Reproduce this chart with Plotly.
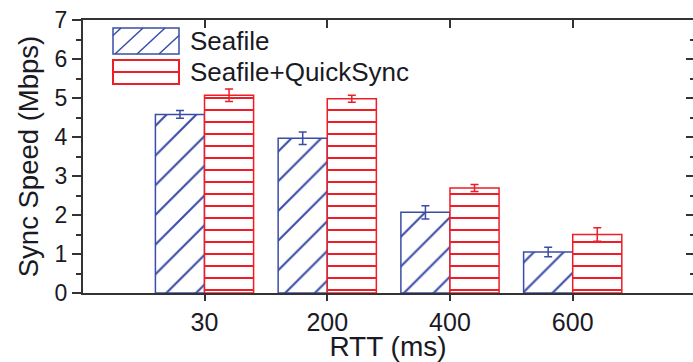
import plotly.graph_objects as go

# ---- data ----
rtt_labels = ["30", "200", "400", "600"]
seafile = [4.58, 3.97, 2.07, 1.05]
seafile_err = [0.10, 0.16, 0.17, 0.12]
quicksync = [5.07, 4.98, 2.69, 1.50]
quicksync_err = [0.16, 0.09, 0.09, 0.17]
y_ticks = [0, 1, 2, 3, 4, 5, 6, 7]

BLUE = "#3A4DA6"
RED = "#EE1D27"
AX = "#333333"
TXT = "#1A1A24"
FONT = "Liberation Sans"

W, H = 693, 362
L, T, B, R = 83, 20, 69, 0
PW, PH = W - L - R, H - T - B

fig = go.Figure()
fig.add_trace(go.Bar(
    x=rtt_labels, y=seafile, name="Seafile",
    marker=dict(color=BLUE, line=dict(color=BLUE, width=1.5),
                pattern=dict(shape="/", size=21, solidity=0.1,
                             fgcolor=BLUE, bgcolor="white", fgopacity=1)),
    error_y=dict(type="data", array=seafile_err, color=BLUE,
                 thickness=1.5, width=4),
    showlegend=False,
))
fig.add_trace(go.Bar(
    x=rtt_labels, y=quicksync, name="Seafile+QuickSync",
    marker=dict(color=RED, line=dict(color=RED, width=1.5),
                pattern=dict(shape="-", size=12, solidity=0.17,
                             fgcolor=RED, bgcolor="white", fgopacity=1)),
    error_y=dict(type="data", array=quicksync_err, color=RED,
                 thickness=1.5, width=4),
    showlegend=False,
))
# invisible trace to carry the mirrored (top/right) axes
fig.add_trace(go.Scatter(x=[0], y=[0], xaxis="x2", yaxis="y2",
                         mode="markers", marker=dict(opacity=0),
                         showlegend=False, hoverinfo="skip"))

xr = [-0.99, 3.98]
fig.update_layout(
    width=W, height=H,
    margin=dict(l=L, r=R, t=T, b=B, pad=0),
    paper_bgcolor="white", plot_bgcolor="white",
    barmode="group", bargap=0.2, bargroupgap=0,
    font=dict(family=FONT, color=TXT),
    xaxis=dict(
        type="category", range=xr,
        showline=True, linecolor=AX, linewidth=2,
        ticks="outside", ticklen=6, tickwidth=2, tickcolor=AX,
        tickfont=dict(size=25, color=TXT),
        showgrid=False, zeroline=False,
        title=dict(text="RTT (ms)", font=dict(size=28, color=TXT), standoff=3),
    ),
    yaxis=dict(
        range=[0, 7], tickvals=y_ticks,
        showline=True, linecolor=AX, linewidth=2,
        ticks="outside", ticklen=9, tickwidth=2, tickcolor=AX,
        minor=dict(ticks="outside", ticklen=5, dtick=0.5, tickwidth=1.5, tickcolor=AX),
        tickfont=dict(size=23, color=TXT),
        showgrid=False, zeroline=False,
        title=dict(text="Sync Speed (Mbps)", font=dict(size=27.5, color=TXT), standoff=8),
    ),
    xaxis2=dict(
        overlaying="x", side="top", anchor="y2", range=xr,
        tickvals=[0, 1, 2, 3], showticklabels=False,
        showline=True, linecolor=AX, linewidth=2,
        ticks="inside", ticklen=8, tickwidth=2, tickcolor=AX,
        showgrid=False, zeroline=False,
    ),
    yaxis2=dict(
        overlaying="y", side="right", anchor="x2", range=[0, 7],
        tickvals=y_ticks, showticklabels=False, showline=False,
        ticks="inside", ticklen=7, tickwidth=2, tickcolor=AX,
        minor=dict(ticks="inside", ticklen=3, dtick=0.5, tickwidth=1.5, tickcolor=AX),
        showgrid=False, zeroline=False,
    ),
)

# ---- custom legend (large swatches like the original) ----
def px(xp):
    return (xp - L) / PW

def py(yp):
    return (H - B - yp) / PH

shapes = []
annos = []
bx0, bx1 = 113, 179
# Seafile swatch
sy0, sy1 = 28, 54
shapes.append(dict(type="rect", xref="paper", yref="paper",
                   x0=px(bx0), x1=px(bx1), y0=py(sy1), y1=py(sy0),
                   line=dict(color=BLUE, width=1.5), fillcolor="white"))
dx, dy = 28, sy1 - sy0
for k in range(-1, 4):
    xb = bx0 + 2 + 22 * k
    t0 = max(0.0, (bx0 - xb) / dx)
    t1 = min(1.0, (bx1 - xb) / dx)
    if t1 <= t0:
        continue
    x0, y0 = xb + t0 * dx, sy1 - t0 * dy
    x1, y1 = xb + t1 * dx, sy1 - t1 * dy
    shapes.append(dict(type="line", xref="paper", yref="paper",
                       x0=px(x0), y0=py(y0), x1=px(x1), y1=py(y1),
                       line=dict(color=BLUE, width=1.5)))
# QuickSync swatch
qy0, qy1 = 60, 84
shapes.append(dict(type="rect", xref="paper", yref="paper",
                   x0=px(bx0), x1=px(bx1), y0=py(qy1), y1=py(qy0),
                   line=dict(color=RED, width=2), fillcolor="white"))
shapes.append(dict(type="line", xref="paper", yref="paper",
                   x0=px(bx0), x1=px(bx1), y0=py(72), y1=py(72),
                   line=dict(color=RED, width=1.8)))
for label, yc in (("Seafile", 41), ("Seafile+QuickSync", 72)):
    annos.append(dict(text=label, xref="paper", yref="paper",
                      x=px(188), y=py(yc), xanchor="left", yanchor="middle",
                      showarrow=False, font=dict(size=26, color=TXT, family=FONT)))

fig.update_layout(shapes=shapes, annotations=annos)
fig.write_html("out.html")
